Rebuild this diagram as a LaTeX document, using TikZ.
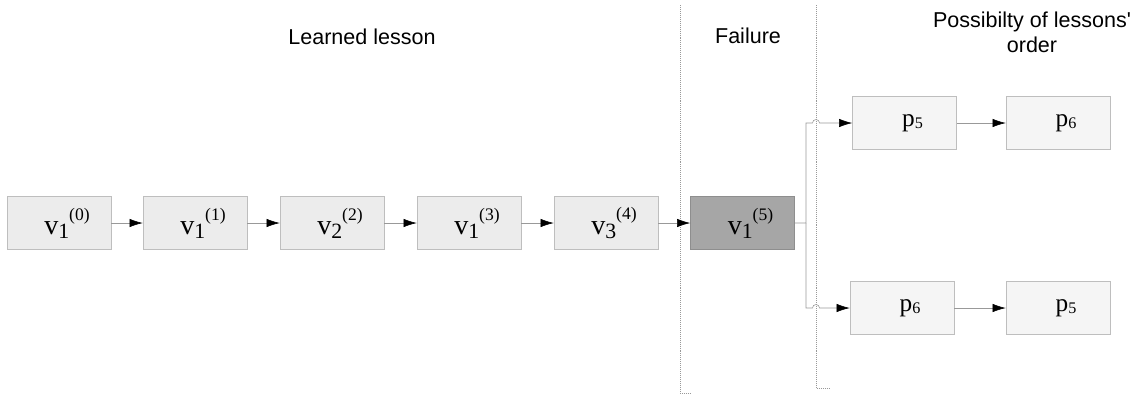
\documentclass[tikz,border=0pt]{standalone}
\usepackage{fontspec}
\setmainfont{Liberation Serif}
\newfontfamily\headfont{Liberation Sans}
\usetikzlibrary{arrows.meta,calc,positioning}
\definecolor{boxfill}{HTML}{ECECEC}
\definecolor{pfill}{HTML}{F5F5F5}
\definecolor{boxline}{HTML}{BEBEBE}
\definecolor{failfill}{HTML}{A6A6A6}
\definecolor{failline}{HTML}{8E8E8E}
\definecolor{connline}{HTML}{999999}
\definecolor{sepline}{HTML}{999999}
\newcommand{\vlab}[2]{\hspace*{0.4cm}v\raisebox{-0.3ex}{\fontsize{15.5}{15}\selectfont #1}\raisebox{1.1ex}{\fontsize{12.5}{12}\selectfont(#2)}}
\newcommand{\plab}[1]{\hspace*{0.4cm}p\raisebox{-0.2ex}{\fontsize{11.5}{11}\selectfont #1}}

\begin{document}
\begin{tikzpicture}[x=0.025cm,y=-0.025cm,
    lessonbox/.style={draw=boxline,fill=boxfill,minimum width=2.6cm,minimum height=1.32cm,inner sep=0pt,font=\fontsize{20}{22}\selectfont},
    orderbox/.style={lessonbox,fill=pfill,font=\fontsize{18}{20}\selectfont},
    link/.style={draw=connline,-{Latex[length=3.3mm,width=2.1mm,black]}},
    sep/.style={draw=sepline,densely dotted},
    head/.style={font=\headfont\fontsize{15.3}{18}\selectfont,align=center}]
  \useasboundingbox (0,0) rectangle (1141,396);
  % section titles
  \node[head] (tlearn) at (362,37) {Learned lesson};
  \node[head] (tfail) at (748,36) {Failure};
  \node[head] (torder) at (1032,32) {Possibilty of lessons'\\order};
  % section borders
  \draw[sep] (680,5) -- (680,393) -- (690,393);
  \draw[sep] (816,5) -- (816,388) -- (830,388);
  % learned sequence
  \foreach \x/\nm/\s/\t in {59/l0/1/0,195/l1/1/1,332/l2/2/2,469/l3/1/3,606/l4/3/4}
    \node[lessonbox] (\nm) at (\x,223) {\vlab{\s}{\t}};
  \node[lessonbox,fill=failfill,draw=failline] (fail) at (742.5,223) {\vlab{1}{5}};
  \foreach \a/\b in {l0/l1,l1/l2,l2/l3,l3/l4,l4/fail}
    \draw[link] (\a) -- (\b);
  % possible orders
  \node[orderbox] (pa5) at (904.5,123) {\plab{5}};
  \node[orderbox] (pa6) at (1058,123) {\plab{6}};
  \node[orderbox] (pb6) at (902,308) {\plab{6}};
  \node[orderbox] (pb5) at (1058,308) {\plab{5}};
  \draw[link] (pa5) -- (pa6);
  \draw[link] (pb6) -- (pb5);
  \coordinate (split) at (806,223);
  \coordinate (hopa) at (812.5,123);
  \coordinate (hopb) at (812.5,308);
  \draw[link] (fail.east) -- (split) |- (hopa) arc[start angle=180,end angle=360,radius=3.5] -- (pa5.west);
  \draw[link] (split) |- (hopb) arc[start angle=180,end angle=360,radius=3.5] -- (pb6.west);
\end{tikzpicture}
\end{document}
